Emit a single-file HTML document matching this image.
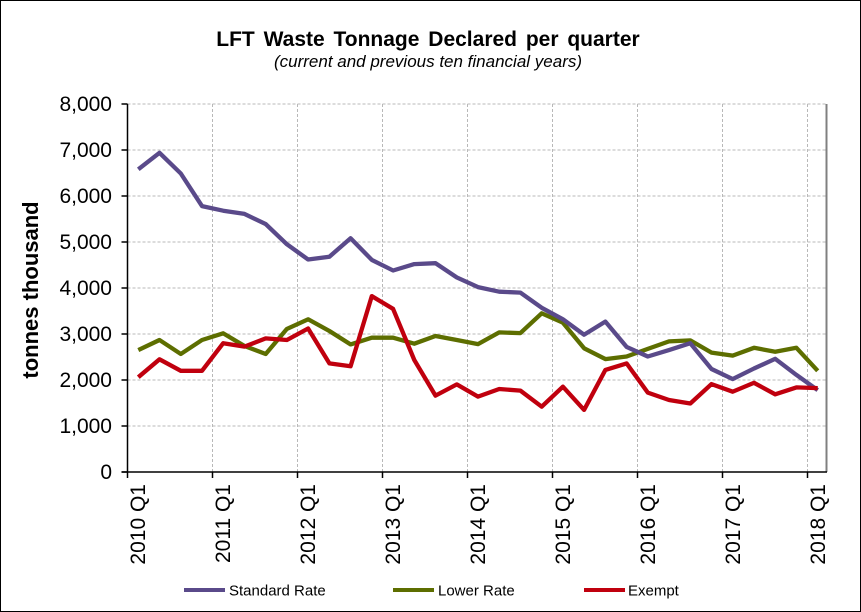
<!DOCTYPE html>
<html><head><meta charset="utf-8"><style>
html,body{margin:0;padding:0;background:#fff}
svg{display:block;font-family:"Liberation Sans",Arial,sans-serif}
</style></head><body>
<svg id="s" width="861" height="612" viewBox="0 0 861 612" xmlns="http://www.w3.org/2000/svg">
<rect x="0.5" y="0.5" width="860" height="611" fill="#fff" stroke="#000"/>
<text x="428" y="46" font-size="21" font-weight="bold" text-anchor="middle" word-spacing="3">LFT Waste Tonnage Declared  per quarter</text>
<text x="428" y="67" font-size="17" font-style="italic" text-anchor="middle">(current and previous ten financial years)</text>
<g id="grid" stroke="#b8b8b8" stroke-dasharray="3,2" stroke-width="1"></g>
<line x1="826.5" y1="104" x2="826.5" y2="472" stroke="#808080" stroke-width="2"/>
<g id="axes" stroke="#000" stroke-width="1.5"></g>
<g id="ylab" font-size="21" text-anchor="end"></g>
<g id="xlab" font-size="21"></g>
<text transform="translate(38,290) rotate(-90)" font-size="22" font-weight="bold" text-anchor="middle">tonnes thousand</text>
<g id="series" fill="none" stroke-width="4.3" stroke-linejoin="round"></g>
<line x1="184" y1="590" x2="225" y2="590" stroke="#5a4a8a" stroke-width="4"/>
<text x="229" y="595.5" font-size="15">Standard Rate</text>
<line x1="393" y1="590" x2="434" y2="590" stroke="#5d6e00" stroke-width="4"/>
<text x="438" y="595.5" font-size="15">Lower Rate</text>
<line x1="584" y1="590" x2="625" y2="590" stroke="#c0000e" stroke-width="4"/>
<text x="628" y="595.5" font-size="15">Exempt</text>
</svg>
<script>
var NS="http://www.w3.org/2000/svg";
function el(p,t,a,txt){var e=document.createElementNS(NS,t);for(var k in a)e.setAttribute(k,a[k]);if(txt)e.textContent=txt;document.getElementById(p).appendChild(e);return e;}
var x0=127.5,y0=472,ys=0.046,qs=21.23;
for(var v=1000;v<=8000;v+=1000){var y=y0-v*ys;el("grid","line",{x1:x0,x2:826,y1:y,y2:y});}
for(var i=1;i<=8;i++){var x=x0+85*i;el("grid","line",{x1:x,x2:x,y1:104,y2:472});}
el("axes","line",{x1:x0,x2:x0,y1:104,y2:472});
el("axes","line",{x1:x0-6,x2:827,y1:y0,y2:y0});
for(var v=0;v<=8000;v+=1000){var y=y0-v*ys;el("axes","line",{x1:x0-6,x2:x0,y1:y,y2:y});
el("ylab","text",{x:112,y:y+7},v==0?"0":(v/1000)+",000");}
for(var i=0;i<=8;i++){var x=x0+85*i;el("axes","line",{x1:x,x2:x,y1:y0,y2:y0+6});
var cx=x0+10.6+85*i;el("xlab","text",{transform:"translate("+(cx+7)+",484) rotate(-90)","text-anchor":"end"},(2010+i)+" Q1");}
var S=[6580,6940,6490,5780,5680,5610,5390,4950,4620,4680,5080,4610,4380,4520,4540,4230,4020,3920,3900,3570,3320,2985,3270,2720,2510,2650,2800,2240,2020,2250,2460,2110,1780];
var L=[2650,2870,2565,2870,3015,2740,2565,3110,3320,3065,2775,2920,2920,2790,2957,2870,2780,3035,3020,3450,3245,2690,2455,2510,2675,2840,2860,2595,2530,2700,2615,2700,2200];
var E=[2060,2450,2200,2200,2800,2725,2905,2870,3120,2360,2300,3825,3545,2435,1660,1905,1640,1805,1770,1420,1855,1350,2220,2360,1725,1565,1490,1910,1745,1940,1690,1840,1825];
function pts(a){return a.map(function(v,i){return (138.3+qs*i).toFixed(1)+","+(y0-v*ys).toFixed(1)}).join(" ");}
el("series","polyline",{points:pts(L),stroke:"#5d6e00"});
el("series","polyline",{points:pts(S),stroke:"#5a4a8a"});
el("series","polyline",{points:pts(E),stroke:"#c0000e"});
</script>
</body></html>
